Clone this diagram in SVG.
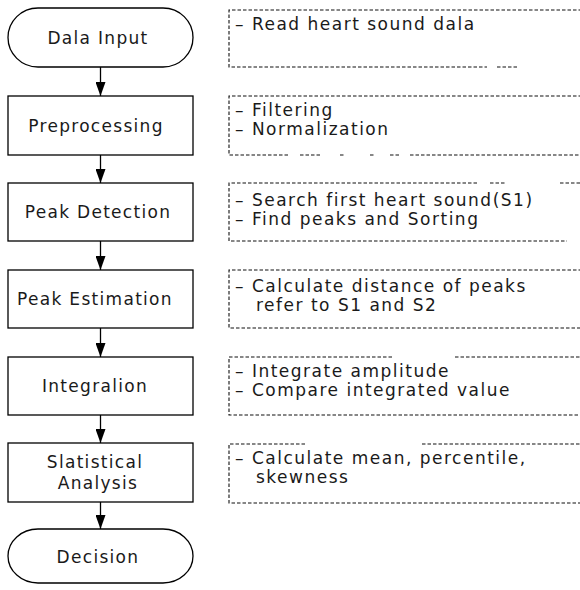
<svg xmlns="http://www.w3.org/2000/svg" width="580" height="590" viewBox="0 0 580 590">
<style>
.node{fill:#fff;stroke:#000;stroke-width:1.3}
.lbl{font-family:"DejaVu Sans",sans-serif;font-size:17px;letter-spacing:1.3px;fill:#1a1a1a;text-anchor:middle}
.note{fill:none;stroke:#111;stroke-width:1.1;stroke-dasharray:3.5 2}
.nt{font-family:"DejaVu Sans",sans-serif;font-size:17px;letter-spacing:1.5px;fill:#1a1a1a}
.conn{stroke:#000;stroke-width:1.3;fill:none}
</style>
<defs>
<marker id="ah" viewBox="0 0 14 10" refX="14" refY="5" markerWidth="14" markerHeight="10" markerUnits="userSpaceOnUse" orient="auto">
<path d="M0,0 L14,5 L0,10 Z" fill="#000"/>
</marker>
</defs>
<rect width="580" height="590" fill="#fff"/>

<g id="connectors">
<line class="conn" x1="100.5" y1="67" x2="100.5" y2="96" marker-end="url(#ah)"/>
<line class="conn" x1="100.5" y1="155" x2="100.5" y2="183" marker-end="url(#ah)"/>
<line class="conn" x1="100.5" y1="241" x2="100.5" y2="270" marker-end="url(#ah)"/>
<line class="conn" x1="100.5" y1="328" x2="100.5" y2="357" marker-end="url(#ah)"/>
<line class="conn" x1="100.5" y1="415" x2="100.5" y2="443" marker-end="url(#ah)"/>
<line class="conn" x1="100.5" y1="502" x2="100.5" y2="529" marker-end="url(#ah)"/>
</g>

<g id="n-input">
<rect class="node" x="8" y="8" width="185" height="59" rx="30" ry="29.5"/>
<text class="lbl" x="98" y="44">Dala Input</text>
</g>
<g id="n-pre">
<rect class="node" x="8" y="96" width="185" height="59"/>
<text class="lbl" x="96" y="132">Preprocessing</text>
</g>
<g id="n-det">
<rect class="node" x="8" y="183" width="185" height="58"/>
<text class="lbl" x="98" y="218">Peak Detection</text>
</g>
<g id="n-est">
<rect class="node" x="8" y="270" width="185" height="58"/>
<text class="lbl" x="95" y="305">Peak Estimation</text>
</g>
<g id="n-int">
<rect class="node" x="8" y="357" width="185" height="58"/>
<text class="lbl" x="95" y="392">Integralion</text>
</g>
<g id="n-stat">
<rect class="node" x="8" y="443" width="185" height="59"/>
<text class="lbl" x="95" y="468">Slatistical</text>
<text class="lbl" x="98" y="489">Analysis</text>
</g>
<g id="n-dec">
<rect class="node" x="8" y="529" width="185" height="54" rx="30" ry="27"/>
<text class="lbl" x="98" y="563">Decision</text>
</g>

<g id="note1">
<path class="note" d="M582,10 H229 V67 H487 M497,67 H517"/>
<text class="nt" x="235" y="30">– Read heart sound dala</text>
</g>
<g id="note2">
<path class="note" d="M582,96 H229 V155 H290 M300,155 H320 M340,155 H345 M370,155 H375 M390,155 H400 M410,155 H582"/>
<text class="nt" x="235" y="116">– Filtering</text>
<text class="nt" x="235" y="135">– Normalization</text>
</g>
<g id="note3">
<path class="note" d="M477,183 H229 V241 H567 M490,183 H505 M560,183 H580"/>
<text class="nt" x="235" y="206">– Search first heart sound(S1)</text>
<text class="nt" x="235" y="225">– Find peaks and Sorting</text>
</g>
<g id="note4">
<path class="note" d="M582,270 H229 V328 H582"/>
<text class="nt" x="235" y="292">– Calculate distance of peaks</text>
<text class="nt" x="256" y="311">refer to S1 and S2</text>
</g>
<g id="note5">
<path class="note" d="M392,357 H229 V415 H582 M455,357 H582"/>
<text class="nt" x="235" y="377">– Integrate amplitude</text>
<text class="nt" x="235" y="396">– Compare integrated value</text>
</g>
<g id="note6">
<path class="note" d="M305,444 H229 V503 H582 M422,444 H582"/>
<text class="nt" x="235" y="464">– Calculate mean, percentile,</text>
<text class="nt" x="256" y="483">skewness</text>
</g>
</svg>
